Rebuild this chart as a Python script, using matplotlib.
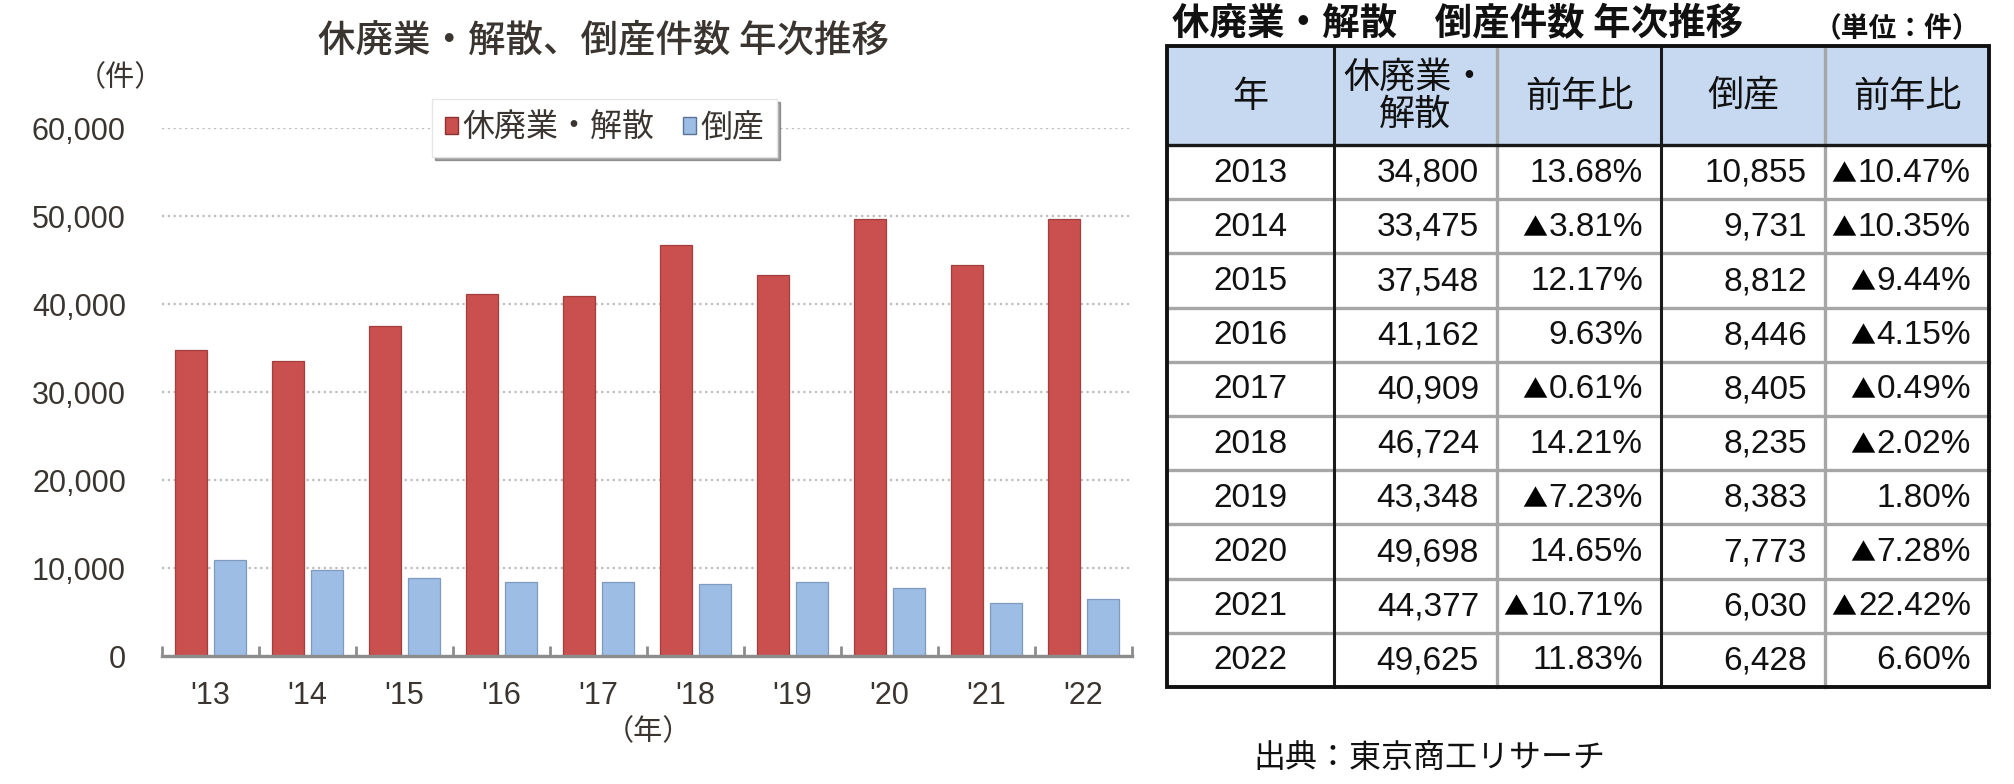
import matplotlib
matplotlib.use("Agg")
import matplotlib.pyplot as plt
from matplotlib.patches import Rectangle
import numpy as np

# ---------------- data ----------------
years = [2013, 2014, 2015, 2016, 2017, 2018, 2019, 2020, 2021, 2022]
year_labels = ["'13", "'14", "'15", "'16", "'17", "'18", "'19", "'20", "'21", "'22"]
closures = [34800, 33475, 37548, 41162, 40909, 46724, 43348, 49698, 44377, 49625]
bankruptcies = [10855, 9731, 8812, 8446, 8405, 8235, 8383, 7773, 6030, 6428]
closures_yoy = ["13.68%", "▲3.81%", "12.17%", "9.63%", "▲0.61%",
                "14.21%", "▲7.23%", "14.65%", "▲10.71%", "11.83%"]
bankrupt_yoy = ["▲10.47%", "▲10.35%", "▲9.44%", "▲4.15%", "▲0.49%",
                "▲2.02%", "1.80%", "▲7.28%", "▲22.42%", "6.60%"]
series_names = ["休廃業・解散", "倒産"]
y_ticks = [0, 10000, 20000, 30000, 40000, 50000, 60000]
table_headers = ["年", "休廃業・\n解散", "前年比", "倒産", "前年比"]

# ---------------- style ----------------
W, H = 2015, 784
CJK = ["Noto Sans CJK JP", "DejaVu Sans"]
NUM = ["Liberation Sans Narrow", "Liberation Sans", "Noto Sans CJK JP", "DejaVu Sans"]
TXT = "#3a3530"
RED = "#C9504E"
BLUE = "#9DBDE5"

fig = plt.figure(figsize=(W / 100, H / 100), dpi=100)
fig.patch.set_facecolor("white")

# ---------------- bar chart ----------------
ax = fig.add_axes([162 / W, 1 - 656 / H, 970 / W, 528 / H])
x = np.arange(len(years))
bw = 0.335
off = 0.2
ax.bar(x - off, closures, width=bw, color=RED, edgecolor="#a23f3c", linewidth=0.9, zorder=3)
ax.bar(x + off, bankruptcies, width=bw, color=BLUE, edgecolor="#7f9abd", linewidth=0.9, zorder=3)

ax.set_xlim(-0.5, len(years) - 0.5)
ax.set_ylim(0, 60000)
ax.set_yticks(y_ticks)
ax.set_yticklabels([f"{v:,}" for v in y_ticks], family=NUM, fontsize=22, color=TXT)
ax.set_xticks(x)
ax.set_xticklabels(year_labels, family=NUM, fontsize=22, color=TXT)
ax.set_xticks(np.arange(-0.5, len(years)), minor=True)
ax.tick_params(axis="x", which="major", length=0, pad=18)
ax.tick_params(axis="x", which="minor", direction="in", length=7, width=2, color="#8c8c8c")
ax.tick_params(axis="y", length=0, pad=26)
for s in ["top", "right", "left"]:
    ax.spines[s].set_visible(False)
ax.spines["bottom"].set_color("#8c8c8c")
ax.spines["bottom"].set_linewidth(2.4)
ax.spines["bottom"].set_zorder(4)
ax.grid(axis="y", color="#bdbdbd", linestyle=(0, (1, 1.6)), linewidth=1.6, zorder=0)
ax.set_axisbelow(True)

ax.legend(
    [Rectangle((0, 0), 1, 1, facecolor=RED, edgecolor="#8a3331"),
     Rectangle((0, 0), 1, 1, facecolor=BLUE, edgecolor="#5a7396")],
    series_names, loc="center", bbox_to_anchor=(0.456, 1.0), ncol=2,
    prop={"family": CJK, "size": 23}, handlelength=0.42, handleheight=0.42,
    handletextpad=0.12, columnspacing=0.9, frameon=True, fancybox=False,
    shadow=True, framealpha=1, edgecolor="#e6e6e6", borderpad=0.4,
    labelcolor=TXT,
)

# ---------------- overlay (texts + table) in pixel coordinates ----------------
ov = fig.add_axes([0, 0, 1, 1], zorder=10)
ov.set_xlim(0, W)
ov.set_ylim(H, 0)
ov.axis("off")

ov.text(604, 40, "休廃業・解散、倒産件数 年次推移", family=CJK, fontsize=27,
        fontweight="medium", color=TXT, ha="center", va="center")
ov.text(120, 78, "（件）", family=CJK, fontsize=21, color=TXT, ha="center", va="center")
ov.text(648, 732, "（年）", family=CJK, fontsize=21, color=TXT, ha="center", va="center")

# table geometry
col_edges = [1167, 1334, 1497, 1661, 1825, 1989]
top, head_bot, bottom = 46, 145, 687
n = len(years)
row_h = (bottom - head_bot) / n

ov.add_patch(Rectangle((col_edges[0], top), col_edges[-1] - col_edges[0], head_bot - top,
                       facecolor="#C6D9F0", edgecolor="none", zorder=1))
for i in range(1, n):
    yy = head_bot + i * row_h
    ov.plot([col_edges[0], col_edges[-1]], [yy, yy], color="#a6a6a6", lw=2.4, zorder=2)
for j, xx in enumerate(col_edges[1:-1], start=1):
    c = "#1a1a1a" if j in (1, 3) else "#a6a6a6"
    ov.plot([xx, xx], [top, bottom], color=c, lw=2.2 if j in (1, 3) else 2.4, zorder=3)
ov.plot([col_edges[0], col_edges[-1]], [head_bot, head_bot], color="#1a1a1a", lw=2.4, zorder=3)
ov.add_patch(Rectangle((col_edges[0], top), col_edges[-1] - col_edges[0], bottom - top,
                       facecolor="none", edgecolor="#111111", lw=2.8, zorder=4))

for j, htxt in enumerate(table_headers):
    cx = (col_edges[j] + col_edges[j + 1]) / 2
    ov.text(cx, (top + head_bot) / 2 + 1, htxt, family=CJK, fontsize=26, color="#111111",
            ha="center", va="center", multialignment="center", linespacing=1.05, zorder=5)

for i in range(n):
    cy = head_bot + (i + 0.5) * row_h + 1
    ov.text((col_edges[0] + col_edges[1]) / 2, cy, str(years[i]), family=NUM, fontsize=24,
            color="#111111", ha="center", va="center", zorder=5)
    vals = [f"{closures[i]:,}", closures_yoy[i], f"{bankruptcies[i]:,}", bankrupt_yoy[i]]
    for j, v in enumerate(vals, start=1):
        neg = v.startswith("▲")
        core = v[1:] if neg else v
        t = ov.text(col_edges[j + 1] - 18, cy, core, family=NUM, fontsize=24, color="#111111",
                    ha="right", va="center", zorder=5)
        if neg:
            ov.annotate("▲", xy=(0, 0.02), xycoords=t, xytext=(-1, 0), textcoords="offset points",
                        family=CJK, fontsize=18, color="#000000", ha="right", va="bottom",
                        zorder=5, annotation_clip=False)

ov.text(1172, 24, "休廃業・解散　倒産件数 年次推移", family=CJK, fontsize=27,
        fontweight="bold", color="#111111", ha="left", va="center")
ov.text(1980, 29, "（単位：件）", family=CJK, fontsize=20, fontweight="bold",
        color="#111111", ha="right", va="center")
ov.text(1253, 758, "出典：東京商工リサーチ", family=CJK, fontsize=23,
        color="#111111", ha="left", va="center")

fig.savefig("out.png", dpi=100, facecolor="white")
